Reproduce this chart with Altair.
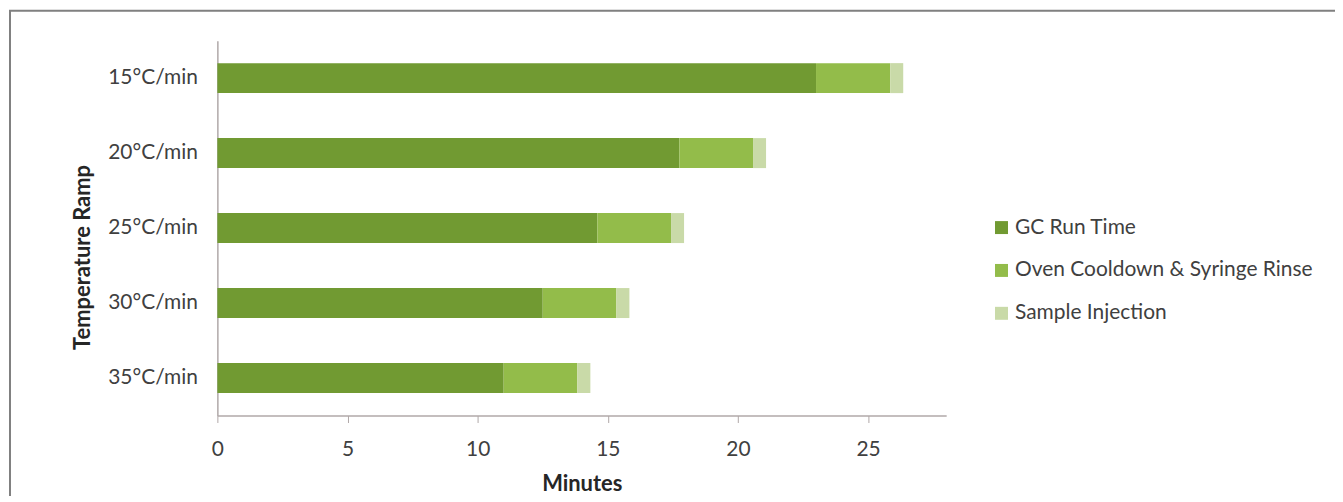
import altair as alt
import pandas as pd

ramps = ["15°C/min", "20°C/min", "25°C/min", "30°C/min", "35°C/min"]
phases = ["GC Run Time", "Oven Cooldown & Syringe Rinse", "Sample Injection"]
gc_run = [23.0, 17.75, 14.6, 12.5, 11.0]
oven_rinse = [2.85, 2.83, 2.83, 2.83, 2.83]
injection = [0.5, 0.5, 0.5, 0.5, 0.5]
colors = ["#719a32", "#93bc4a", "#c9daa8"]
x_ticks = [0, 5, 10, 15, 20, 25]

rows = []
for i, r in enumerate(ramps):
    for j, (p, v) in enumerate(zip(phases, [gc_run[i], oven_rinse[i], injection[i]])):
        rows.append({"ramp": r, "phase": p, "minutes": v, "ord": j})
df = pd.DataFrame(rows)

FONT = "Lato"

bars = alt.Chart(df).mark_bar().encode(
    y=alt.Y("ramp:N", sort=ramps,
            scale=alt.Scale(paddingInner=0.6, paddingOuter=0.3),
            axis=alt.Axis(title="Temperature Ramp", ticks=False, labelPadding=20,
                          labelFontSize=21, labelColor="#404040", labelFont=FONT,
                          domainColor="#b0a8a8", domainWidth=1.5,
                          titleFont=FONT, titleFontSize=22, titleFontWeight="bold",
                          titleColor="#262626", titleAngle=270, titleAlign="center",
                          titleBaseline="middle", titleX=-135, titleY=217)),
    x=alt.X("sum(minutes):Q", stack="zero",
            scale=alt.Scale(domain=[0, 28], nice=False),
            axis=alt.Axis(title="Minutes", values=x_ticks, grid=False, labelFlush=False,
                          tickSize=7, tickColor="#b0a8a8", domainColor="#b0a8a8",
                          domainWidth=1.5, labelPadding=16, labelFontSize=21,
                          labelColor="#404040", labelFont=FONT,
                          titleFont=FONT, titleFontSize=22, titleFontWeight="bold",
                          titleColor="#262626", titlePadding=14)),
    color=alt.Color("phase:N", scale=alt.Scale(domain=phases, range=colors),
                    legend=alt.Legend(title=None, orient="none", legendX=776, legendY=177,
                                      symbolType="square", symbolSize=169,
                                      symbolStrokeWidth=0, labelFont=FONT,
                                      labelFontSize=21, labelColor="#404040",
                                      labelLimit=0, rowPadding=21, labelOffset=3)),
    order=alt.Order("ord:Q"),
)

frame = alt.Chart(pd.DataFrame({"k": [0]})).mark_rect(
    fill=None, stroke="#808080", strokeWidth=2
).encode(
    x=alt.value(-208), x2=alt.value(1140), y=alt.value(-30), y2=alt.value(480)
)

chart = alt.layer(frame, bars).properties(
    width=731, height=376,
    padding={"left": 210, "top": 32, "right": 390, "bottom": 80},
    autosize=alt.AutoSizeParams(type="none"),
).configure_view(stroke=None)

chart.save("out.html", embed_options={"renderer": "svg", "actions": False})
